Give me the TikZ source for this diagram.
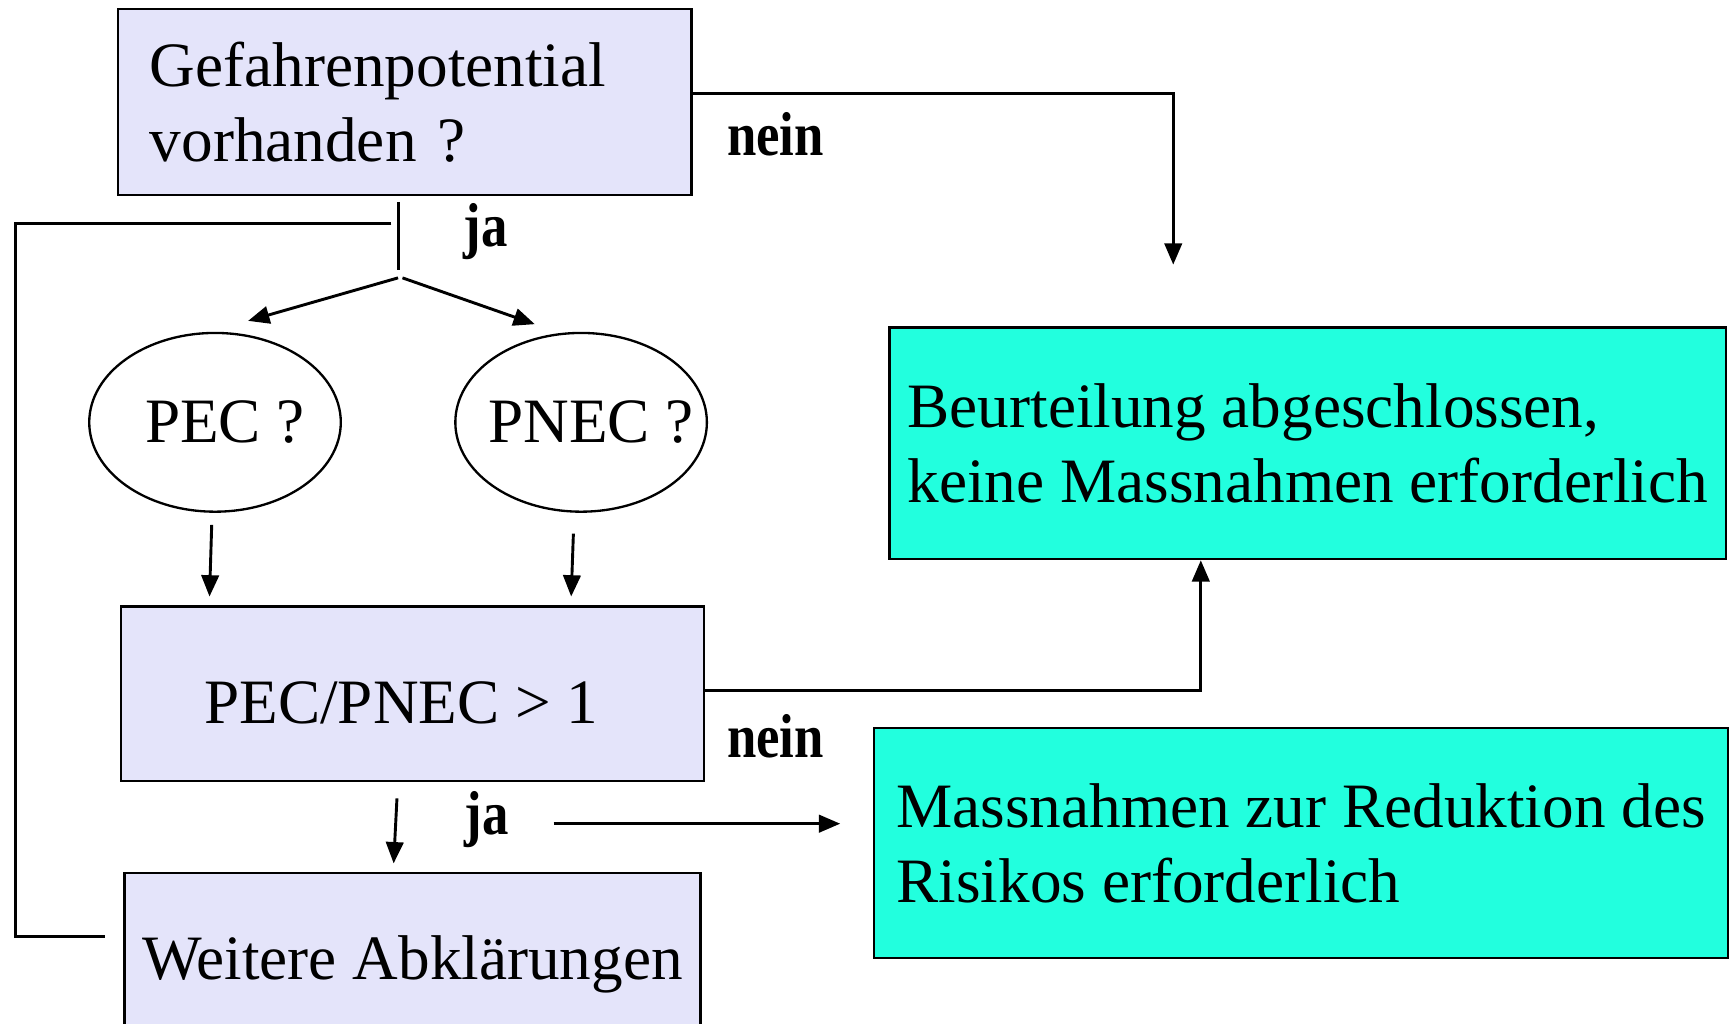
\documentclass[tikz,border=0pt]{standalone}
\usepackage{fontspec}
\setmainfont{Liberation Serif}
\newfontfamily\narrowfont[FakeStretch=0.85]{Liberation Serif}
\usepackage{tikz}
\usetikzlibrary{shapes,arrows.meta,positioning,calc}
\definecolor{lav}{RGB}{228,228,250}
\definecolor{aqua}{RGB}{34,255,222}
\newcommand{\bigfont}{\fontsize{16.3}{19.3}\selectfont}
\tikzset{
block/.style = {draw, fill=lav, rectangle, line width=0.6pt, font=\bigfont},
result/.style = {draw, fill=aqua, rectangle, line width=0.6pt, font=\bigfont, align=left},
oval/.style = {draw, ellipse, line width=0.6pt, minimum width=2.28cm, minimum height=1.62cm, inner sep=0pt},
ovaltext/.style = {font=\bigfont, xshift=0.09cm},
tmp/.style = {coordinate},
lbl/.style = {font=\narrowfont\bfseries\fontsize{16}{19}\selectfont, anchor=base west, inner sep=0pt}
}

\begin{document}
\begin{tikzpicture}[auto, x=0.01cm, y=-0.01cm, line width=0.75pt, >={Triangle[length=5.5pt,width=4.5pt]}]
  \useasboundingbox (0,0) rectangle (1568,928);

  \node [block, text width=4.62cm, inner xsep=0.29cm, align=left, minimum height=1.69cm] (gefahr) at (367,92.5) {Gefahrenpotential\\vorhanden ?};
  \node [oval, label={[ovaltext]center:PEC ?}]             (pec)      at (195,383)    {};
  \node [oval, label={[ovaltext]center:PNEC ?}]            (pnec)     at (527,383)    {};
  \node [block, minimum width=5.28cm, minimum height=1.58cm, text height=0.54cm] (ratio) at (374,629) {PEC/PNEC > 1\hspace*{0.2cm}};
  \node [block, minimum width=5.22cm, minimum height=1.66cm] (weitere) at (374,875)    {Weitere Abklärungen};
  \node [result, minimum width=7.58cm, minimum height=2.10cm] (beurteil) at (1186,402) {Beurteilung abgeschlossen,\\keine Massnahmen erforderlich};
  \node [result, minimum width=7.74cm, minimum height=2.09cm] (massn)   at (1180,764.5) {Massnahmen zur Reduktion des\\Risikos erforderlich};

  \node [lbl] (nein1) at (658,141) {nein};
  \node [lbl] (ja1)   at (419,224) {ja};
  \node [lbl] (nein2) at (658,687) {nein};
  \node [lbl] (ja2)   at (420,757) {ja};

  \node [tmp] (neinbend)  at (1064,85)  {};
  \node [tmp] (neinend)   at (1064,240) {};
  \node [tmp] (jatop)     at (361,183)  {};
  \node [tmp] (jabot)     at (361,245)  {};
  \node [tmp] (splitl)    at (361,252)  {};
  \node [tmp] (splitr)    at (365,252)  {};
  \node [tmp] (pecin)     at (225,291)  {};
  \node [tmp] (pnecin)    at (485,294)  {};
  \node [tmp] (loopa)     at (355,203)  {};
  \node [tmp] (loopb)     at (14,203)   {};
  \node [tmp] (loopc)     at (14,849)   {};
  \node [tmp] (loopd)     at (95,849)   {};
  \node [tmp] (pecout)    at (192,476)  {};
  \node [tmp] (pecend)    at (190,541)  {};
  \node [tmp] (pnecout)   at (520,484)  {};
  \node [tmp] (pnecend)   at (518,541)  {};
  \node [tmp] (ratiobend) at (1089,626) {};
  \node [tmp] (weitin)    at (360,724)  {};
  \node [tmp] (weitend)   at (357,783)  {};
  \node [tmp] (massstart) at (502,747)  {};
  \node [tmp] (massend)   at (762,747)  {};

  \draw [->] (gefahr.east |- neinbend) -- (neinbend) -- (neinend);
  \draw (jatop) -- (jabot);
  \draw [->] (splitl) -- (pecin);
  \draw [->] (splitr) -- (pnecin);
  \draw (loopa) -- (loopb) -- (loopc) -- (loopd);
  \draw [->] (pecout) -- (pecend);
  \draw [->] (pnecout) -- (pnecend);
  \draw [->] (ratio.east |- ratiobend) -- (ratiobend) -- (ratiobend |- beurteil.south);
  \draw [->] (weitin) -- (weitend);
  \draw [->] (massstart) -- (massend);
\end{tikzpicture}
\end{document}
